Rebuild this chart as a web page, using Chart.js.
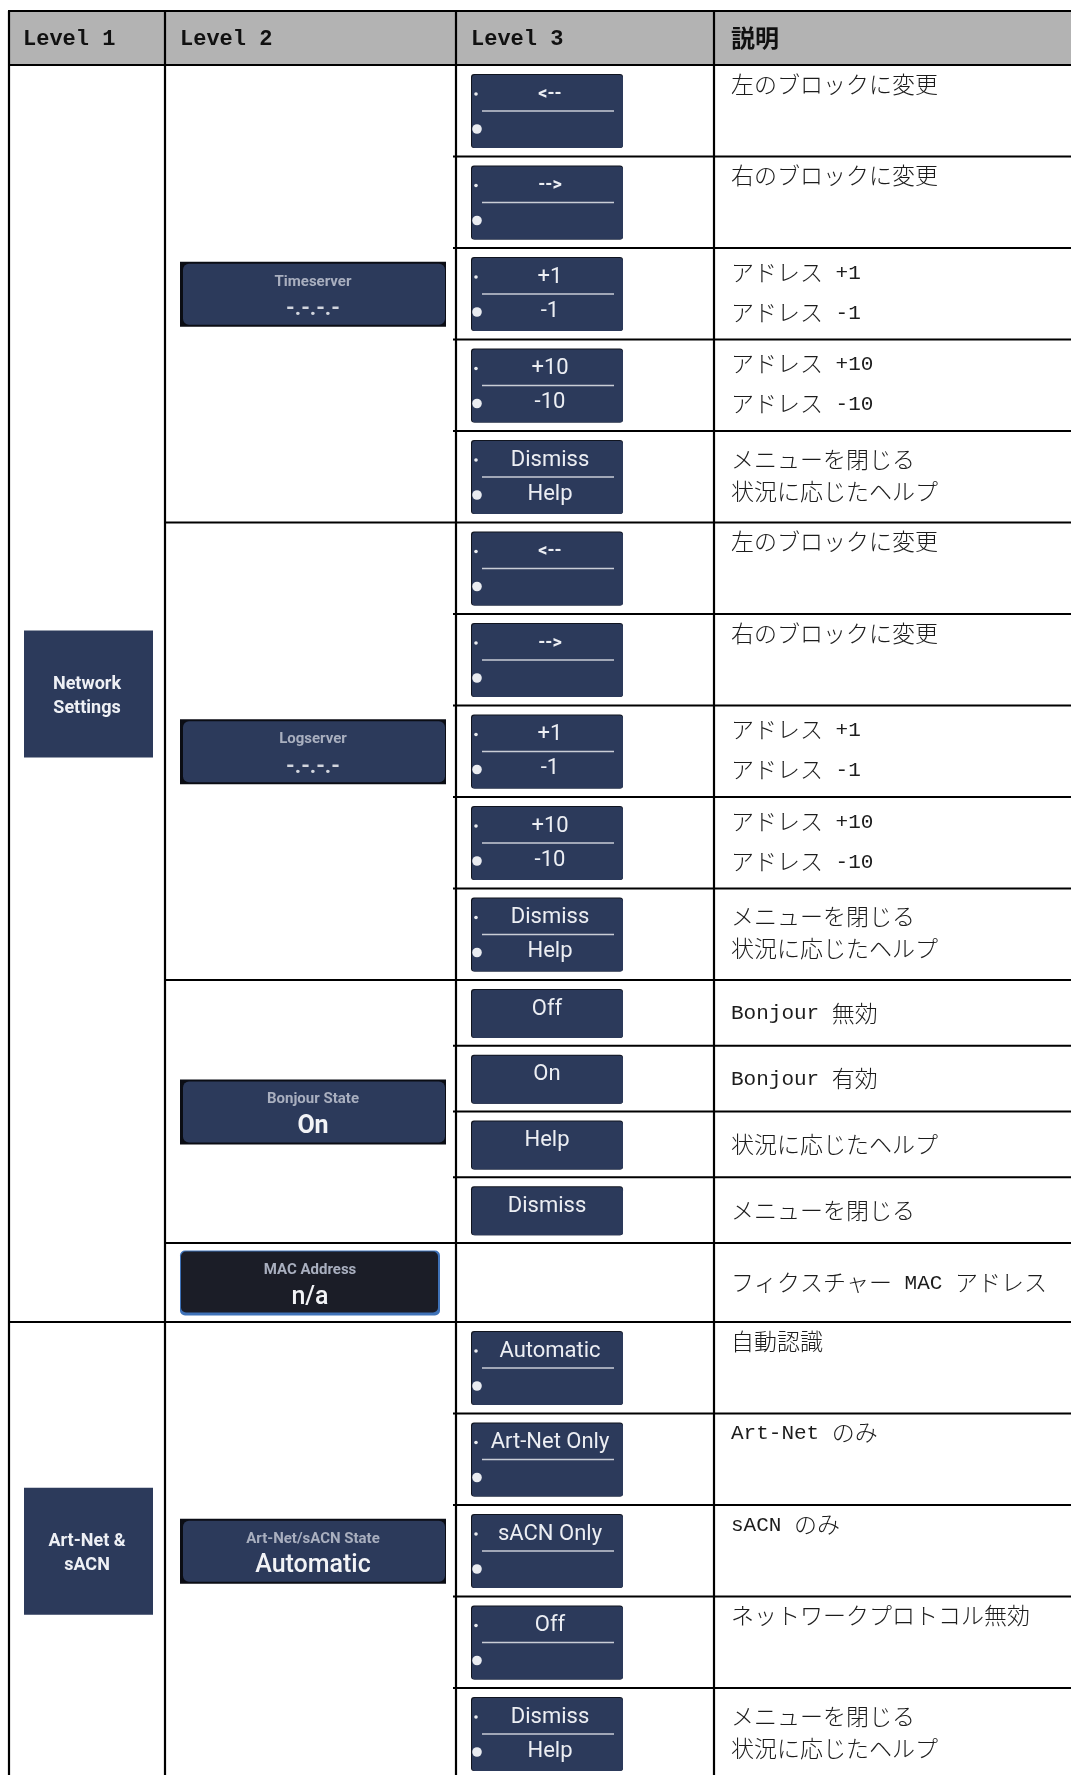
<!DOCTYPE html>
<html><head><meta charset="utf-8">
<script src="https://cdn.jsdelivr.net/npm/chart.js@4/dist/chart.umd.min.js"></script>
<style>html,body{margin:0;padding:0;background:#fff;}#wrap{width:1071px;height:1775px;position:relative;overflow:hidden;}</style>
</head><body><div id="wrap"><canvas id="c" width="1071" height="1775"></canvas></div>
<script>
// ---------- data ----------
const headers = ["Level 1", "Level 2", "Level 3", "説明"];
const level1Labels = [["Network", "Settings"], ["Art-Net &", "sACN"]];
const level2Titles = ["Timeserver", "Logserver", "Bonjour State", "MAC Address", "Art-Net/sACN State"];
const level2Values = ["-.-.-.-", "-.-.-.-", "On", "n/a", "Automatic"];
const level2Section = [0, 0, 0, 0, 1];
const level3Group = [0,0,0,0,0, 1,1,1,1,1, 2,2,2,2, 3, 4,4,4,4,4];
const level3Kind = ["dual","dual","dual","dual","dual","dual","dual","dual","dual","dual",
                    "single","single","single","single","none","dual","dual","dual","dual","dual"];
const level3TopLabels = ["<--","-->","+1","+10","Dismiss","<--","-->","+1","+10","Dismiss",
                         "Off","On","Help","Dismiss","","Automatic","Art-Net Only","sACN Only","Off","Dismiss"];
const level3BottomLabels = ["","","-1","-10","Help","","","-1","-10","Help",
                            "","","","","","","","","","Help"];
const descriptions = [
  ["左のブロックに変更"], ["右のブロックに変更"], ["アドレス +1", "アドレス -1"], ["アドレス +10", "アドレス -10"],
  ["メニューを閉じる", "状況に応じたヘルプ"],
  ["左のブロックに変更"], ["右のブロックに変更"], ["アドレス +1", "アドレス -1"], ["アドレス +10", "アドレス -10"],
  ["メニューを閉じる", "状況に応じたヘルプ"],
  ["Bonjour 無効"], ["Bonjour 有効"], ["状況に応じたヘルプ"], ["メニューを閉じる"],
  ["フィクスチャー MAC アドレス"],
  ["自動認識"], ["Art-Net のみ"], ["sACN のみ"], ["ネットワークプロトコル無効"],
  ["メニューを閉じる", "状況に応じたヘルプ"]
];

// ---------- layout / style ----------
const COLS = [9, 165, 456, 714, 1071];
const HEAD_TOP = 11, HEAD_BOT = 65;
const ROW_H = { dual: 91.5, single: 65.75, none: 79 };
const NAVY = "#2c3a5b";

function isCJK(ch) { return /[\u3000-\u30ff\u3400-\u9fff\uff00-\uffef]/.test(ch); }
function drawMixed(ctx, text, x, y, latinFont, cjkFont, latinDy) {
  let runs = [], cur = "", curC = null;
  for (const ch of text) {
    const c = isCJK(ch);
    if (curC === null || c === curC) { cur += ch; curC = c; }
    else { runs.push([cur, curC]); cur = ch; curC = c; }
  }
  if (cur) runs.push([cur, curC]);
  ctx.textAlign = "left"; ctx.textBaseline = "middle";
  for (const [t, c] of runs) {
    ctx.font = c ? cjkFont : latinFont;
    ctx.fillText(t, x, y + (c ? 0 : (latinDy || 0)));
    x += ctx.measureText(t).width;
  }
}
function rr(ctx, x, y, w, h, r) { ctx.beginPath(); ctx.roundRect(x, y, w, h, r); }

const tablePlugin = {
  id: "tablePlugin",
  afterDraw(chart) {
    const ctx = chart.ctx, sx = chart.scales.x, sy = chart.scales.y;
    const X = v => sx.getPixelForValue(v), Y = v => sy.getPixelForValue(v);
    const tops = []; let yy = HEAD_BOT;
    level3Kind.forEach(k => { tops.push(yy); yy += ROW_H[k]; });
    const bottom = yy;
    const rowBot = i => tops[i] + ROW_H[level3Kind[i]];
    ctx.save();
    // header
    ctx.fillStyle = "#b3b3b3";
    ctx.fillRect(X(COLS[0]), Y(HEAD_TOP), X(COLS[4]) - X(COLS[0]), Y(HEAD_BOT) - Y(HEAD_TOP));
    ctx.fillStyle = "#111";
    const headX = [23, 180, 471, 731];
    headers.forEach((h, i) => drawMixed(ctx, h, X(headX[i]), Y(38), "bold 22px 'Liberation Mono'", "bold 24px 'Noto Sans CJK JP'", 1));

    // level 1 boxes
    level1Labels.forEach((lab, s) => {
      const rows = level3Group.map((g, i) => i).filter(i => level2Section[level3Group[i]] === s);
      const t = tops[rows[0]], b = rowBot(rows[rows.length - 1]);
      const cy = (t + b) / 2;
      ctx.fillStyle = NAVY;
      ctx.fillRect(X(24), Y(cy - 63), X(153) - X(24), Y(cy + 64) - Y(cy - 63));
      ctx.fillStyle = "#eef0f5"; ctx.font = "bold 18px Roboto"; ctx.textAlign = "center"; ctx.textBaseline = "middle";
      ctx.fillText(lab[0], X(87), Y(cy - 9));
      ctx.fillText(lab[1], X(87), Y(cy + 15));
    });

    // level 2 boxes
    level2Titles.forEach((title, g) => {
      const rows = level3Group.map((gg, i) => i).filter(i => level3Group[i] === g);
      const t = tops[rows[0]], b = rowBot(rows[rows.length - 1]);
      const cy = (t + b) / 2;
      const bx = X(180), by = Y(cy - 32), bh = 65;
      const mac = title === "MAC Address";
      const bw = X(mac ? 440 : 446) - bx;
      if (mac) {
        ctx.fillStyle = "#3f72b8"; rr(ctx, bx, by, bw, bh, 5); ctx.fill();
        ctx.fillStyle = "#1b1d27"; rr(ctx, bx + 1, by + 1, bw - 3, bh - 4, 5); ctx.fill();
      } else {
        ctx.fillStyle = "#0b0d14"; ctx.fillRect(bx, by, bw, bh);
        ctx.fillStyle = NAVY; rr(ctx, bx + 3, by + 2, bw - 4, bh - 4, 6); ctx.fill();
      }
      ctx.textAlign = "center"; ctx.textBaseline = "middle";
      const cx = bx + bw / 2;
      ctx.fillStyle = "#a9afbf"; ctx.font = "bold 15px Roboto";
      ctx.fillText(title, cx, by + 20);
      const v = level2Values[g];
      if (v.startsWith("-.")) { ctx.fillStyle = "#d3d6de"; ctx.font = "bold 22px Roboto"; ctx.fillText(v, cx, by + 48); }
      else { ctx.fillStyle = "#f2f3f6"; ctx.font = (v === "On" ? "bold 25px Roboto" : "500 25px Roboto"); ctx.fillText(v, cx, by + 47); }
    });

    // level 3 buttons and descriptions
    level3Kind.forEach((k, i) => {
      const t = tops[i], b = rowBot(i);
      const bx = X(471), bw = X(623) - X(471);
      if (k === "dual") {
        const by = Y(t + 9), bh = 74;
        ctx.fillStyle = "#10141f"; rr(ctx, bx, by, bw, bh, 3); ctx.fill();
        ctx.fillStyle = NAVY; rr(ctx, bx + 1, by + 1, bw - 1, bh - 1, 3); ctx.fill();
        ctx.fillStyle = "#e9ebf0";
        ctx.beginPath(); ctx.arc(bx + 5, by + 20, 1.8, 0, Math.PI * 2); ctx.fill();
        ctx.beginPath(); ctx.arc(bx + 6, by + 55, 4.8, 0, Math.PI * 2); ctx.fill();
        ctx.strokeStyle = "#c9cdd6"; ctx.lineWidth = 1.5;
        ctx.beginPath(); ctx.moveTo(bx + 11, by + 37); ctx.lineTo(bx + bw - 9, by + 37); ctx.stroke();
        ctx.textAlign = "center"; ctx.textBaseline = "middle"; ctx.fillStyle = "#eceef3";
        const lab = level3TopLabels[i];
        ctx.font = lab.includes("--") ? "bold 18px Roboto" : "22px Roboto";
        ctx.fillText(lab, bx + bw / 2 + 3, by + 20);
        if (level3BottomLabels[i]) { ctx.font = "22px Roboto"; ctx.fillText(level3BottomLabels[i], bx + bw / 2 + 3, by + 54); }
      } else if (k === "single") {
        const by = Y(t + 9), bh = 49;
        ctx.fillStyle = "#10141f"; rr(ctx, bx, by, bw, bh, 3); ctx.fill();
        ctx.fillStyle = NAVY; rr(ctx, bx + 1, by + 1, bw - 1, bh - 1, 3); ctx.fill();
        ctx.textAlign = "center"; ctx.textBaseline = "middle"; ctx.fillStyle = "#eceef3"; ctx.font = "22px Roboto";
        ctx.fillText(level3TopLabels[i], bx + bw / 2, by + 20);
      }
      const d = descriptions[i];
      ctx.fillStyle = "#1c1c1c";
      const lf = "21px 'Liberation Mono'", cf = "300 23px 'Noto Sans CJK JP'";
      let ys;
      if (k !== "dual") ys = [(t + b) / 2];
      else if (d.length === 1) ys = [t + 19];
      else if (level3BottomLabels[i] === "Help") ys = [t + 28, t + 60];
      else ys = [t + 24, t + 64];
      d.forEach((line, j) => drawMixed(ctx, line, X(731), Y(ys[j]), lf, cf, 1));
    });

    // grid lines
    ctx.strokeStyle = "#000"; ctx.lineWidth = 2.2; ctx.lineCap = "butt";
    const hl = (x0, x1, y) => { ctx.beginPath(); ctx.moveTo(X(x0), Y(y)); ctx.lineTo(X(x1), Y(y)); ctx.stroke(); };
    const vl = (x, y0, y1) => { ctx.beginPath(); ctx.moveTo(X(x), Y(y0)); ctx.lineTo(X(x), Y(y1)); ctx.stroke(); };
    hl(COLS[0] - 1, COLS[4], HEAD_TOP);
    hl(COLS[0] - 1, COLS[4], HEAD_BOT);
    for (let c = 0; c < 4; c++) vl(COLS[c], HEAD_TOP, bottom);
    for (let i = 1; i < level3Kind.length; i++) {
      const g0 = level3Group[i - 1], g1 = level3Group[i];
      let x0 = COLS[2] - 3;
      if (g0 !== g1) x0 = level2Section[g0] !== level2Section[g1] ? COLS[0] - 1 : COLS[1];
      hl(x0, COLS[4], tops[i]);
    }
    hl(COLS[0] - 1, COLS[4], bottom);
    ctx.restore();
  }
};

new Chart(document.getElementById("c"), {
  type: "scatter",
  data: { datasets: [{ data: [], pointRadius: 0 }] },
  options: {
    responsive: false, animation: false, events: [],
    layout: { padding: 0 },
    plugins: { legend: { display: false }, tooltip: { enabled: false }, title: { display: false } },
    scales: {
      x: { type: "linear", min: 0, max: 1071, display: false },
      y: { type: "linear", min: 0, max: 1775, reverse: true, display: false }
    }
  },
  plugins: [tablePlugin]
});
</script></body></html>
